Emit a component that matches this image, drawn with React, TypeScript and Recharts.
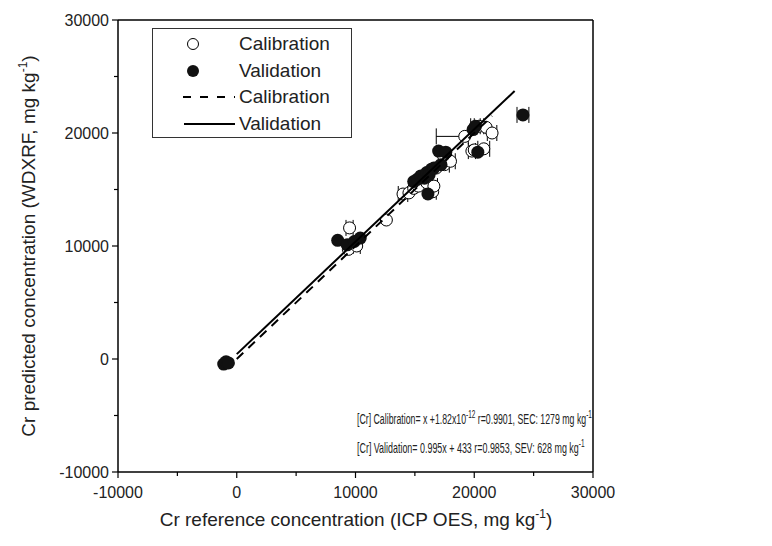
import React from "react";
import { ScatterChart, Scatter, XAxis, YAxis, ErrorBar, Legend } from "recharts";

// Calibration samples (open circles)
const calX = [9500, 9400, 10100, 12600, 14000, 14500, 14900, 15300, 16000, 16500, 16600, 16800, 17500, 18000, 17400, 19200, 20400, 21000, 21500, 19800, 20800, 20000];
const calY = [11600, 9700, 10000, 12300, 14600, 14700, 15100, 15300, 15600, 14800, 15300, 16900, 17200, 17500, 18000, 19700, 20600, 20500, 20000, 18400, 18600, 18500];
const calErr: (number | [number, number])[] = [300, 0, 300, 0, 400, 0, 0, 0, 0, 300, 300, 0, 400, 400, 0, [2400, 300], 400, 0, 400, 300, 500, 0];

// Validation samples (filled circles)
const valX = [-1100, -900, -700, 8500, 9300, 9900, 10400, 14900, 15200, 15500, 15800, 16000, 16200, 16400, 16600, 16100, 17000, 17600, 17200, 19900, 20100, 20300, 24100];
const valY = [-450, -250, -350, 10500, 10100, 10400, 10700, 15700, 15900, 16200, 16000, 16500, 16300, 16800, 16900, 14600, 18400, 18300, 17200, 20300, 20600, 18300, 21600];
const valErr = [0, 0, 0, 0, 0, 0, 0, 0, 0, 0, 0, 0, 0, 0, 0, 0, 0, 0, 0, 0, 400, 0, 500];

// regression lines (end points)
const calLineX = [0, 21500];
const calLineY = [0, 21500];
const valLineX = [0, 23400];
const valLineY = [433, 23716];

const axisTicks = [-10000, -5000, 0, 5000, 10000, 15000, 20000, 25000, 30000];

const calData = calX.map((x, i) => ({ x, y: calY[i], ex: calErr[i] }));
const valData = valX.map((x, i) => ({ x, y: valY[i], ex: valErr[i] }));
const calLine = calLineX.map((x, i) => ({ x, y: calLineY[i] }));
const valLine = valLineX.map((x, i) => ({ x, y: valLineY[i] }));

const FONT = '"Liberation Sans", Arial, sans-serif';

const BottomTick = ({ x, y, payload }: any) => {
  const major = payload.value % 10000 === 0;
  return (
    <g>
      <line x1={x} x2={x} y1={y} y2={y + (major ? 6 : 4)} stroke="#000" strokeWidth={1.2} />
      {major && (
        <text x={x} y={y + 26} textAnchor="middle" fontSize={16} fontFamily={FONT} fill="#222">
          {payload.value}
        </text>
      )}
    </g>
  );
};

const LeftTick = ({ x, y, payload }: any) => {
  const major = payload.value % 10000 === 0;
  return (
    <g>
      <line x1={x - (major ? 6 : 4)} x2={x} y1={y} y2={y} stroke="#000" strokeWidth={1.2} />
      {major && (
        <text x={x - 9} y={y + 6} textAnchor="end" fontSize={16} fontFamily={FONT} fill="#222">
          {payload.value}
        </text>
      )}
    </g>
  );
};

const TopTick = ({ x, y }: any) => (
  <line x1={x} x2={x} y1={y} y2={y + 5} stroke="#000" strokeWidth={1.2} />
);

const RightTick = ({ x, y }: any) => (
  <line x1={x - 5} x2={x} y1={y} y2={y} stroke="#000" strokeWidth={1.2} />
);

const OpenDot = (p: any) => (
  <circle cx={p.cx} cy={p.cy} r={6} fill="#fff" stroke="#000" strokeWidth={1} />
);
const FilledDot = (p: any) => <circle cx={p.cx} cy={p.cy} r={6.5} fill="#111" />;
const NoDot = () => <g />;

const LegendBox = () => (
  <div
    style={{
      border: "1px solid #333",
      width: 200,
      height: 110,
      boxSizing: "border-box",
      fontFamily: FONT,
      fontSize: 19,
      color: "#222",
      paddingTop: 2,
    }}
  >
    {[
      { icon: <circle cx={40} cy={13} r={5.5} fill="#fff" stroke="#000" />, label: "Calibration" },
      { icon: <circle cx={40} cy={13} r={6} fill="#111" />, label: "Validation" },
      { icon: <line x1={30} x2={82} y1={13} y2={13} stroke="#000" strokeWidth={2} strokeDasharray="8 9" />, label: "Calibration" },
      { icon: <line x1={31} x2={82} y1={13} y2={13} stroke="#000" strokeWidth={2} />, label: "Validation" },
    ].map((it, i) => (
      <div key={i} style={{ display: "flex", alignItems: "center", height: 26.5 }}>
        <svg width={86} height={26}>{it.icon}</svg>
        <span>{it.label}</span>
      </div>
    ))}
  </div>
);

const Annotations = () => (
  <g fontFamily={FONT} fill="#222">
    <text transform="translate(357 424) scale(0.585 1)" x={0} y={0} fontSize={15}>
      [Cr] Calibration= x +1.82x10
      <tspan dy={-6} fontSize={11}>-12</tspan>
      <tspan dy={6}> r=0.9901, SEC: 1279 mg kg</tspan>
      <tspan dy={-6} fontSize={11}>-1</tspan>
    </text>
    <text transform="translate(357 453) scale(0.595 1)" x={0} y={0} fontSize={15}>
      [Cr] Validation= 0.995x + 433 r=0.9853, SEV: 628 mg kg
      <tspan dy={-6} fontSize={11}>-1</tspan>
    </text>
    <text x={356} y={526} textAnchor="middle" fontSize={19}>
      Cr reference concentration (ICP OES, mg kg
      <tspan dy={-8} fontSize={12}>-1</tspan>
      <tspan dy={8}>)</tspan>
    </text>
    <text x={35} y={246} textAnchor="middle" fontSize={19} transform="rotate(-90 35 246)">
      Cr predicted concentration (WDXRF, mg kg
      <tspan dy={-8} fontSize={12}>-1</tspan>
      <tspan dy={8}>)</tspan>
    </text>
  </g>
);

export default function App() {
  return (
    <div style={{ position: "absolute", left: 0, top: 0, width: 772, height: 546, background: "#fff" }}>
      <ScatterChart width={772} height={546} margin={{ top: 19, right: 178, bottom: 0, left: 0 }}>
        <XAxis
          type="number"
          dataKey="x"
          domain={[-10000, 30000]}
          ticks={axisTicks}
          allowDataOverflow
          height={74}
          tickSize={0}
          tickMargin={0}
          tick={<BottomTick />}
          axisLine={{ stroke: "#000", strokeWidth: 1.5 }}
          interval={0}
        />
        <XAxis
          xAxisId="top"
          orientation="top"
          type="number"
          dataKey="x"
          domain={[-10000, 30000]}
          ticks={axisTicks}
          height={1}
          tickSize={0}
          tickMargin={0}
          tick={<TopTick />}
          axisLine={{ stroke: "#000", strokeWidth: 1.5 }}
          interval={0}
        />
        <YAxis
          type="number"
          dataKey="y"
          domain={[-10000, 30000]}
          ticks={axisTicks}
          allowDataOverflow
          width={118}
          tickSize={0}
          tickMargin={0}
          tick={<LeftTick />}
          axisLine={{ stroke: "#000", strokeWidth: 1.5 }}
          interval={0}
        />
        <YAxis
          yAxisId="right"
          orientation="right"
          type="number"
          dataKey="y"
          domain={[-10000, 30000]}
          ticks={axisTicks}
          width={1}
          tickSize={0}
          tickMargin={0}
          tick={<RightTick />}
          axisLine={{ stroke: "#000", strokeWidth: 1.5 }}
          interval={0}
        />
        <Legend
          layout="horizontal"
          verticalAlign="middle"
          align="center"
          content={<LegendBox />}
          wrapperStyle={{ left: 152, top: 28, width: 200 }}
        />
        <Scatter name="Calibration" data={calData} shape={<OpenDot />} isAnimationActive={false}>
          <ErrorBar dataKey="ex" direction="x" width={8} stroke="#000" strokeWidth={1} />
        </Scatter>
        <Scatter name="Validation" data={valData} shape={<FilledDot />} isAnimationActive={false}>
          <ErrorBar dataKey="ex" direction="x" width={8} stroke="#000" strokeWidth={1} />
        </Scatter>
        <Scatter
          name="Calibration fit"
          data={calLine}
          line={{ stroke: "#000", strokeWidth: 2, strokeDasharray: "9 7" }}
          shape={<NoDot />}
          legendType="none"
          isAnimationActive={false}
        />
        <Scatter
          name="Validation fit"
          data={valLine}
          line={{ stroke: "#000", strokeWidth: 2 }}
          shape={<NoDot />}
          legendType="none"
          isAnimationActive={false}
        />
        <Annotations />
      </ScatterChart>
    </div>
  );
}
